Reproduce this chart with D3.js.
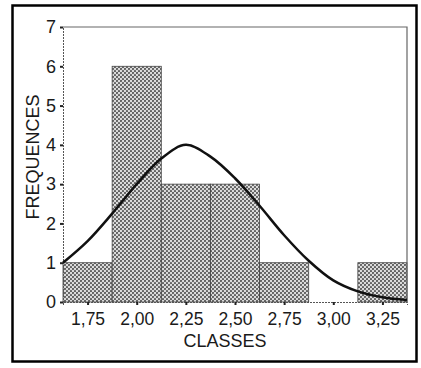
<!DOCTYPE html>
<html>
<head>
<meta charset="utf-8">
<script src="https://cdn.jsdelivr.net/npm/d3@7"></script>
<style>
  body { margin: 0; background: #fff; }
  text { font-family: "Liberation Sans", Arial, sans-serif; fill: #1a1a1a; }
</style>
</head>
<body>
<script>
// histogram classes (bin centres) and counts
var classes = [1.75, 2.00, 2.25, 2.50, 2.75, 3.00, 3.25];
var frequences = [1, 6, 3, 3, 1, 0, 1];
var tickLabels = ["1,75", "2,00", "2,25", "2,50", "2,75", "3,00", "3,25"];
var yTicks = [0, 1, 2, 3, 4, 5, 6, 7];

// fitted curve
var curveX = [1.625, 1.75, 1.875, 2.0, 2.125, 2.25, 2.375, 2.5, 2.625, 2.75, 2.875, 3.0, 3.125, 3.25, 3.375];
var curveY = [1.0, 1.55, 2.25, 3.0, 3.65, 4.0, 3.7, 3.15, 2.45, 1.7, 1.05, 0.55, 0.27, 0.12, 0.05];

var W = 421, H = 368;
var binW = 0.25;

var svg = d3.select("body").append("svg")
    .attr("width", W)
    .attr("height", H);

// halftone fill
var pat = svg.append("defs").append("pattern")
    .attr("id", "dots")
    .attr("patternUnits", "userSpaceOnUse")
    .attr("width", 4)
    .attr("height", 4);
pat.append("rect").attr("width", 4).attr("height", 4).attr("fill", "#dcdcdc");
pat.append("circle").attr("cx", 1).attr("cy", 1).attr("r", 1.1).attr("fill", "#5a5a5a");
pat.append("circle").attr("cx", 3).attr("cy", 3).attr("r", 1.1).attr("fill", "#5a5a5a");

// outer frame
svg.append("rect")
    .attr("x", 12.5).attr("y", 5.5)
    .attr("width", 404).attr("height", 356)
    .attr("fill", "none")
    .attr("stroke", "#000")
    .attr("stroke-width", 2.5);

var x = d3.scaleLinear().domain([1.625, 3.375]).range([63, 407]);
var y = d3.scaleLinear().domain([0, 7]).range([302, 27]);

var bars = classes.map(function (c, i) { return { c: c, f: frequences[i] }; })
    .filter(function (d) { return d.f > 0; });

// bars
svg.selectAll("rect.bar")
    .data(bars)
    .enter()
    .append("rect")
    .attr("class", "bar")
    .attr("x", function (d) { return x(d.c - binW / 2); })
    .attr("width", function (d) { return x(d.c + binW / 2) - x(d.c - binW / 2); })
    .attr("y", function (d) { return y(d.f); })
    .attr("height", function (d) { return y(0) - y(d.f); })
    .attr("fill", "url(#dots)")
    .attr("stroke", "#444")
    .attr("stroke-width", 0.8);

// plot frame top + right
svg.append("path")
    .attr("d", "M" + x(1.625) + "," + y(7) + "H" + x(3.375) + "V" + y(0))
    .attr("fill", "none")
    .attr("stroke", "#666")
    .attr("stroke-width", 1.2);

// axes
var yAxis = d3.axisLeft(y).tickValues(yTicks).tickSize(3).tickFormat(d3.format("d"));
var gy = svg.append("g").attr("transform", "translate(" + x(1.625) + ",0)").call(yAxis);
gy.select(".domain").attr("stroke", "#555").attr("stroke-dasharray", "2,1");
gy.selectAll(".tick line").attr("stroke", "#222").attr("stroke-width", 2);
gy.selectAll(".tick text")
    .attr("x", -7)
    .style("font-size", "18px")
    .style("font-family", "Liberation Sans, Arial, sans-serif")
    .attr("fill", "#1a1a1a");

var xAxis = d3.axisBottom(x).tickValues(classes).tickSize(3)
    .tickFormat(function (d, i) { return tickLabels[i]; });
var gx = svg.append("g").attr("transform", "translate(0," + y(0) + ")").call(xAxis);
gx.select(".domain").attr("stroke", "#555").attr("stroke-dasharray", "2,1");
gx.selectAll(".tick line").attr("stroke", "#222").attr("stroke-width", 2);
gx.selectAll(".tick text")
    .attr("y", 11)
    .style("font-size", "17.5px")
    .style("font-family", "Liberation Sans, Arial, sans-serif")
    .attr("fill", "#1a1a1a");

// fitted curve
var line = d3.line()
    .x(function (d, i) { return x(curveX[i]); })
    .y(function (d) { return y(d); })
    .curve(d3.curveCatmullRom);
svg.append("path")
    .datum(curveY)
    .attr("d", line)
    .attr("fill", "none")
    .attr("stroke", "#111")
    .attr("stroke-width", 2.5);

// titles
svg.append("text")
    .attr("x", 225).attr("y", 347)
    .attr("text-anchor", "middle")
    .style("font-size", "18px")
    .text("CLASSES");

svg.append("text")
    .attr("transform", "translate(39,157) rotate(-90)")
    .attr("text-anchor", "middle")
    .style("font-size", "18px")
    .text("FREQUENCES");
</script>
</body>
</html>
